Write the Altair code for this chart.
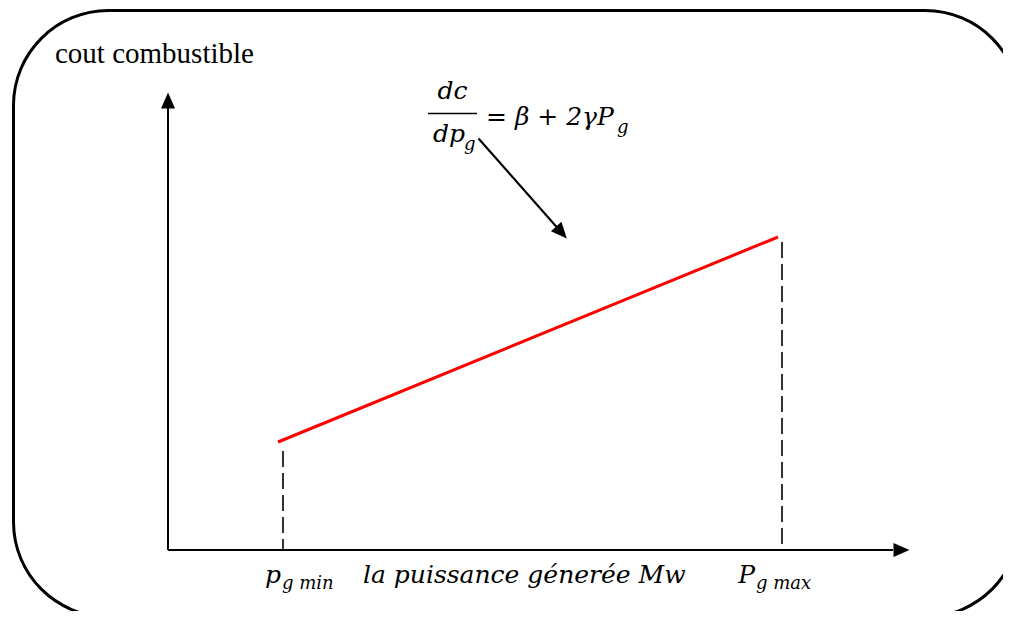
import altair as alt
import pandas as pd

# ---- conceptual coordinate system (origin at the axes' intersection) ----
X_DOMAIN = [-32, 167]
Y_DOMAIN = [-12.2, 108.4]

# rounded frame
frame_x = [-30.9, 170.4]
frame_y = [107.9, -13.4]

# axes
axis_x_end = [145]
axis_y_end = [89]
arrow_x = [146.7, 0]
arrow_y = [0, 89.9]
arrow_angle = [90, 0]

# incremental cost line
cost_x = [22, 122]
cost_y = [21.6, 62.6]

# P_g min / P_g max limits
p_limits = [23, 122.8]
p_limit_top = [19.8, 61.6]

# annotation arrow
annot_x = [62.1, 78.7]
annot_y = [82.3, 63.5]
annot_angle = [138.5]

# texts
serif_labels = ["cout combustible"]
serif_x = [-22.6]
serif_y = [97.4]

math_main_text = ["dc", "dp", "= β + 2γP", "p", "la puissance génerée Mw", "P"]
math_main_x = [56.9, 59.4, 63.6, 22.6, 39.0, 117.4]
math_main_y = [90.2, 81.6, 85.0, -6.6, -6.6, -6.6]
math_main_align = ["center", "right", "left", "right", "left", "right"]

math_sub_text = ["g", "g", "g min", "g max"]
math_sub_x = [59.2, 89.8, 22.8, 117.6]
math_sub_y = [80.0, 83.4, -7.8, -7.8]

frac_x = [52.0]
frac_x2 = [61.8]
frac_y = [87.3]

xs = alt.Scale(domain=X_DOMAIN, nice=False, zero=False)
ys = alt.Scale(domain=Y_DOMAIN, nice=False, zero=False)


def X(f="x"):
    return alt.X(f + ":Q", scale=xs, axis=None)


def Y(f="y"):
    return alt.Y(f + ":Q", scale=ys, axis=None)


frame = alt.Chart(pd.DataFrame({"x": [frame_x[0]], "x2": [frame_x[1]],
                                "y": [frame_y[0]], "y2": [frame_y[1]]})).mark_rect(
    fillOpacity=0, stroke="black", strokeWidth=3, cornerRadius=95, clip=True
).encode(x=X(), x2="x2:Q", y=Y(), y2="y2:Q")

y_axis = alt.Chart(pd.DataFrame({"x": [0], "y": [0], "y2": axis_y_end})).mark_rule(
    color="black", strokeWidth=2
).encode(x=X(), y=Y(), y2="y2:Q")

x_axis = alt.Chart(pd.DataFrame({"x": [0], "x2": axis_x_end, "y": [0]})).mark_rule(
    color="black", strokeWidth=2
).encode(x=X(), x2="x2:Q", y=Y())

heads = alt.Chart(pd.DataFrame({"x": arrow_x + [annot_x[1]],
                                "y": arrow_y + [annot_y[1]],
                                "a": arrow_angle + annot_angle})).mark_point(
    shape="M0,-1L0.875,1L-0.875,1Z", size=256, filled=True, color="black", opacity=1
).encode(x=X(), y=Y(), angle=alt.Angle("a:Q", scale=None))

annot = alt.Chart(pd.DataFrame({"x": [annot_x[0]], "x2": [annot_x[1]],
                                "y": [annot_y[0]], "y2": [annot_y[1]]})).mark_rule(
    color="black", strokeWidth=2.2
).encode(x=X(), x2="x2:Q", y=Y(), y2="y2:Q")

cost = alt.Chart(pd.DataFrame({"x": cost_x, "y": cost_y})).mark_line(
    color="#ff0000", strokeWidth=3
).encode(x=X(), y=Y())

dashes = alt.Chart(pd.DataFrame({"x": p_limits, "y": p_limit_top, "y2": [0, 0]})).mark_rule(
    color="black", strokeWidth=1.6, strokeDash=[16, 6]
).encode(x=X(), y=Y(), y2="y2:Q")

frac = alt.Chart(pd.DataFrame({"x": frac_x, "x2": frac_x2, "y": frac_y})).mark_rule(
    color="black", strokeWidth=1.5
).encode(x=X(), x2="x2:Q", y=Y())

serif = alt.Chart(pd.DataFrame({"t": serif_labels, "x": serif_x, "y": serif_y})).mark_text(
    font="Liberation Serif", fontSize=29, align="left", baseline="alphabetic", color="black"
).encode(x=X(), y=Y(), text="t:N")

math_df = pd.DataFrame({"t": math_main_text, "x": math_main_x, "y": math_main_y,
                        "al": math_main_align})
math_layers = []
for al in ["left", "center", "right"]:
    sub = math_df[math_df["al"] == al]
    math_layers.append(
        alt.Chart(sub).mark_text(
            font="DejaVu Serif", fontStyle="italic", fontSize=25, align=al,
            baseline="alphabetic", color="black"
        ).encode(x=X(), y=Y(), text="t:N")
    )

subs = alt.Chart(pd.DataFrame({"t": math_sub_text, "x": math_sub_x, "y": math_sub_y})).mark_text(
    font="DejaVu Serif", fontStyle="italic", fontSize=18, align="left",
    baseline="alphabetic", color="black"
).encode(x=X(), y=Y(), text="t:N")

chart = alt.layer(
    frame, y_axis, x_axis, dashes, cost, annot, heads, frac, serif, *math_layers, subs
).properties(
    width=995, height=603, padding=0, background="white"
).configure_view(stroke=None)

chart.save("out.html", embed_options={"renderer": "svg", "actions": False})
